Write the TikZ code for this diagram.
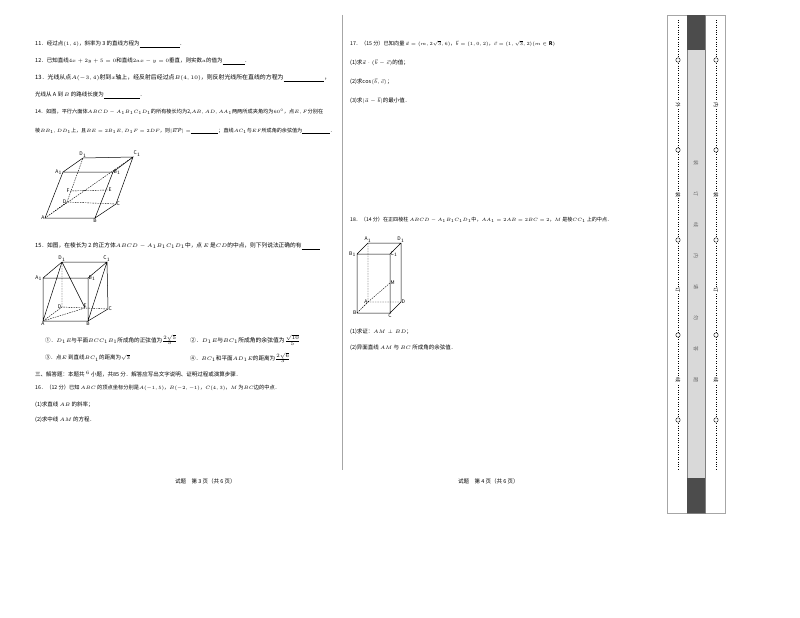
\documentclass[tikz,border=0pt]{standalone}
\usepackage{fontspec}
\setmainfont{Noto Sans CJK SC}
\newcommand{\fitw}[2]{\resizebox{#1pt}{!}{#2}}
\begin{document}
\begin{tikzpicture}[x=1pt,y=-1pt,
  tx/.style={anchor=west,inner sep=0pt,font=\fontsize{5.5}{6.5}\selectfont},
  lb/.style={inner sep=0.5pt,font=\fontsize{5}{6}\selectfont\itshape},
  ed/.style={line width=0.5pt},
  hd/.style={line width=0.4pt,dashed,dash pattern=on 1.5pt off 1pt}]
\useasboundingbox (0,0) rectangle (800,618);
\fill[white] (0,0) rectangle (800,618);
\draw[gray!70,line width=0.7pt] (342,15) -- (342,470);
% left page
\node[tx] (q11) at (35,44) {11．经过点$(1,4)$，斜率为 3 的直线方程为\underline{\hspace{40pt}}．};
\node[tx] (q12) at (35,61) {12．已知直线$4x+2y+5=0$和直线$2ax-y=0$垂直，则实数$a$的值为\underline{\hspace{22pt}}．};
\node[tx] (q13) at (35,78) {\fitw{295}{13．光线从点$A(-3,4)$射到$x$轴上，经反射后经过点$B(4,10)$，则反射光线所在直线的方程为\underline{\hspace{38pt}}，}};
\node[tx] (q13b) at (35,95) {光线从 A 到 $B$ 的路线长度为\underline{\hspace{36pt}}．};
\node[tx] (q14) at (35,112) {\fitw{288}{14．如图，平行六面体$ABCD-A_1B_1C_1D_1$的所有棱长均为2,$AB,AD,AA_1$两两所成夹角均为$60^\circ$，点$E,F$分别在}};
\node[tx] (q14b) at (35,131) {\fitw{300}{棱$BB_1,DD_1$上，且$BE=2B_1E,D_1F=2DF$，则$|\overrightarrow{EF}|=$\underline{\hspace{30pt}}；直线$AC_1$与$EF$所成角的余弦值为\underline{\hspace{30pt}}．}};
% fig 14
\coordinate (A) at (45,218); \coordinate (B) at (95,218); \coordinate (C) at (116,204); \coordinate (D) at (67,202);
\coordinate (A1) at (63,172); \coordinate (B1) at (113,172); \coordinate (C1) at (133,157); \coordinate (D1) at (83,158);
\coordinate (E) at (108,190); \coordinate (F) at (70,191);
\draw[ed] (A)--(B)--(B1)--(A1)--cycle (B)--(C)--(C1)--(B1) (A1)--(D1)--(C1);
\draw[hd] (A)--(D)--(C) (D)--(D1) (A)--(C1) (F)--(E);
\node[lb,left] at (A) {A}; \node[lb,below] at (B) {B}; \node[lb,right] at (C) {C}; \node[lb,left] at (D) {D};
\node[lb,left] at (A1) {A$_1$}; \node[lb,right] at (B1) {B$_1$}; \node[lb,above right] at (C1) {C$_1$}; \node[lb,above] at (D1) {D$_1$};
\node[lb,right] at (E) {E}; \node[lb,left] at (F) {F};
\node[tx] (q15) at (35,246) {\fitw{285}{15．如图，在棱长为 2 的正方体$ABCD-A_1B_1C_1D_1$中，点 $E$ 是$CD$的中点，则下列说法正确的有\underline{\hspace{18pt}}}};
% fig 15
\coordinate (a) at (43,321); \coordinate (b) at (88,321); \coordinate (c) at (108,309); \coordinate (d) at (62,307);
\coordinate (a1) at (43,278); \coordinate (b1) at (88,278); \coordinate (c1) at (107,262); \coordinate (d1) at (62,262);
\coordinate (e) at (85,308);
\draw[ed] (a)--(b)--(b1)--(a1)--cycle (b)--(c)--(c1)--(b1) (a1)--(d1)--(c1) (d1)--(e) (b)--(c1) (d1)--(a);
\draw[hd] (a)--(d)--(c) (d)--(d1) (a)--(e);
\node[lb,below] at (a) {A}; \node[lb,below] at (b) {B}; \node[lb,right] at (c) {C}; \node[lb,left] at (d) {D};
\node[lb,left] at (a1) {A$_1$}; \node[lb,right] at (b1) {B$_1$}; \node[lb,above] at (c1) {C$_1$}; \node[lb,above] at (d1) {D$_1$};
\node[lb,above] at (e) {E};
\node[tx] (o1) at (45,340) {\fitw{132}{①．$D_1E$与平面$BCC_1B_1$所成角的正弦值为$\frac{2\sqrt5}{5}$}};
\node[tx] (o2) at (190,340) {\fitw{110}{②．$D_1E$与$BC_1$所成角的余弦值为$\frac{\sqrt{10}}{5}$}};
\node[tx] (o3) at (45,358) {③．点$E$ 到直线$BC_1$的距离为$\sqrt3$};
\node[tx] (o4) at (190,358) {\fitw{100}{④．$BC_1$和平面$AD_1E$的距离为$\frac{2\sqrt6}{3}$}};
\node[tx] (s3) at (35,374) {三、解答题：本题共 $^6$ 小题，共85 分．解答应写出文字说明、证明过程或演算步骤．};
\node[tx] (q16) at (35,388) {\fitw{245}{16．（12 分）已知 $ABC$ 的顶点坐标分别是$A(-1,5)$，$B(-2,-1)$，$C(4,3)$，$M$ 为$BC$边的中点．}};
\node[tx] (q161) at (35,405) {(1)求直线 $AB$ 的斜率；};
\node[tx] (q162) at (35,420) {(2)求中线 $AM$ 的方程．};
\node[tx] (f3) at (175,481) {试题\quad 第 3 页（共 6 页）};
\node[tx] (f4) at (458,481) {试题\quad 第 4 页（共 6 页）};
% right page
\node[tx] (q17) at (350,44) {\fitw{205}{17．（15 分）已知向量 $\vec a=(m,2\sqrt3,6)$，$\vec b=(1,0,2)$，$\vec c=(1,\sqrt3,2)(m\in\mathbf R)$}};
\node[tx] (q171) at (350,63) {(1)求$\vec a\cdot(\vec b-\vec c)$的值；};
\node[tx] (q172) at (350,82) {(2)求$\cos\langle\vec b,\vec c\rangle$；};
\node[tx] (q173) at (350,101) {(3)求$|\vec a-\vec b|$的最小值．};
\node[tx] (q18) at (350,220) {\fitw{262}{18．（14 分）在正四棱柱 $ABCD-A_1B_1C_1D_1$中，$AA_1=2AB=2BC=2$，$M$ 是棱$CC_1$ 上的中点．}};
\coordinate (P) at (368,302); \coordinate (Q) at (357,313); \coordinate (R) at (390,313); \coordinate (S) at (401,302);
\coordinate (P1) at (368,243); \coordinate (Q1) at (357,254); \coordinate (R1) at (390,254); \coordinate (S1) at (401,243);
\coordinate (M) at (390,283);
\draw[ed] (Q)--(R)--(S)--(S1)--(P1)--(Q1)--cycle (Q1)--(R1)--(R) (R1)--(S1);
\draw[hd] (Q)--(P)--(S) (P)--(P1) (P)--(M);
\node[lb,above] at (P1) {A$_1$}; \node[lb,above] at (S1) {D$_1$}; \node[lb,left] at (Q1) {B$_1$}; \node[lb,right] at (R1) {C$_1$};
\node[lb,left] at (P) {A}; \node[lb,right] at (S) {D}; \node[lb,left] at (Q) {B}; \node[lb,below] at (R) {C}; \node[lb,right] at (M) {M};
\node[tx] (q181) at (350,332) {(1)求证：$AM\perp BD$；};
\node[tx] (q182) at (350,348) {(2)异面直线 $AM$ 与 $BC$ 所成角的余弦值．};
% side strip
\draw[gray!70,line width=0.5pt] (667,15) rectangle (725,513);
\fill[gray!30] (687,15) rectangle (705,513);
\draw[gray,line width=0.4pt] (687,15) rectangle (705,513);
\fill[black!70] (687,15) rectangle (705,50);
\fill[black!70] (687,478) rectangle (705,513);
\foreach \xx in {678,716}{
  \draw[dotted,line width=0.4pt] (\xx,20) -- (\xx,470);
  \foreach \yy in {60,150,240,335,420} \draw[fill=white,line width=0.4pt] (\xx,\yy) circle (2.2);
}
\foreach \ch/\yy in {外/105,装/195,订/290,线/380} \node[fill=white,inner sep=0.5pt,rotate=-90,font=\fontsize{5}{6}\selectfont] at (678,\yy) {\ch};
\foreach \ch/\yy in {内/105,装/195,订/290,线/380} \node[fill=white,inner sep=0.5pt,rotate=-90,font=\fontsize{5}{6}\selectfont] at (716,\yy) {\ch};
\foreach \ch [count=\i] in {装,订,线,内,请,勿,答,题} \node[rotate=-90,inner sep=0pt,font=\fontsize{5}{6}\selectfont,text=black!60] at (696,132+\i*31) {\ch};
\end{tikzpicture}
\end{document}
